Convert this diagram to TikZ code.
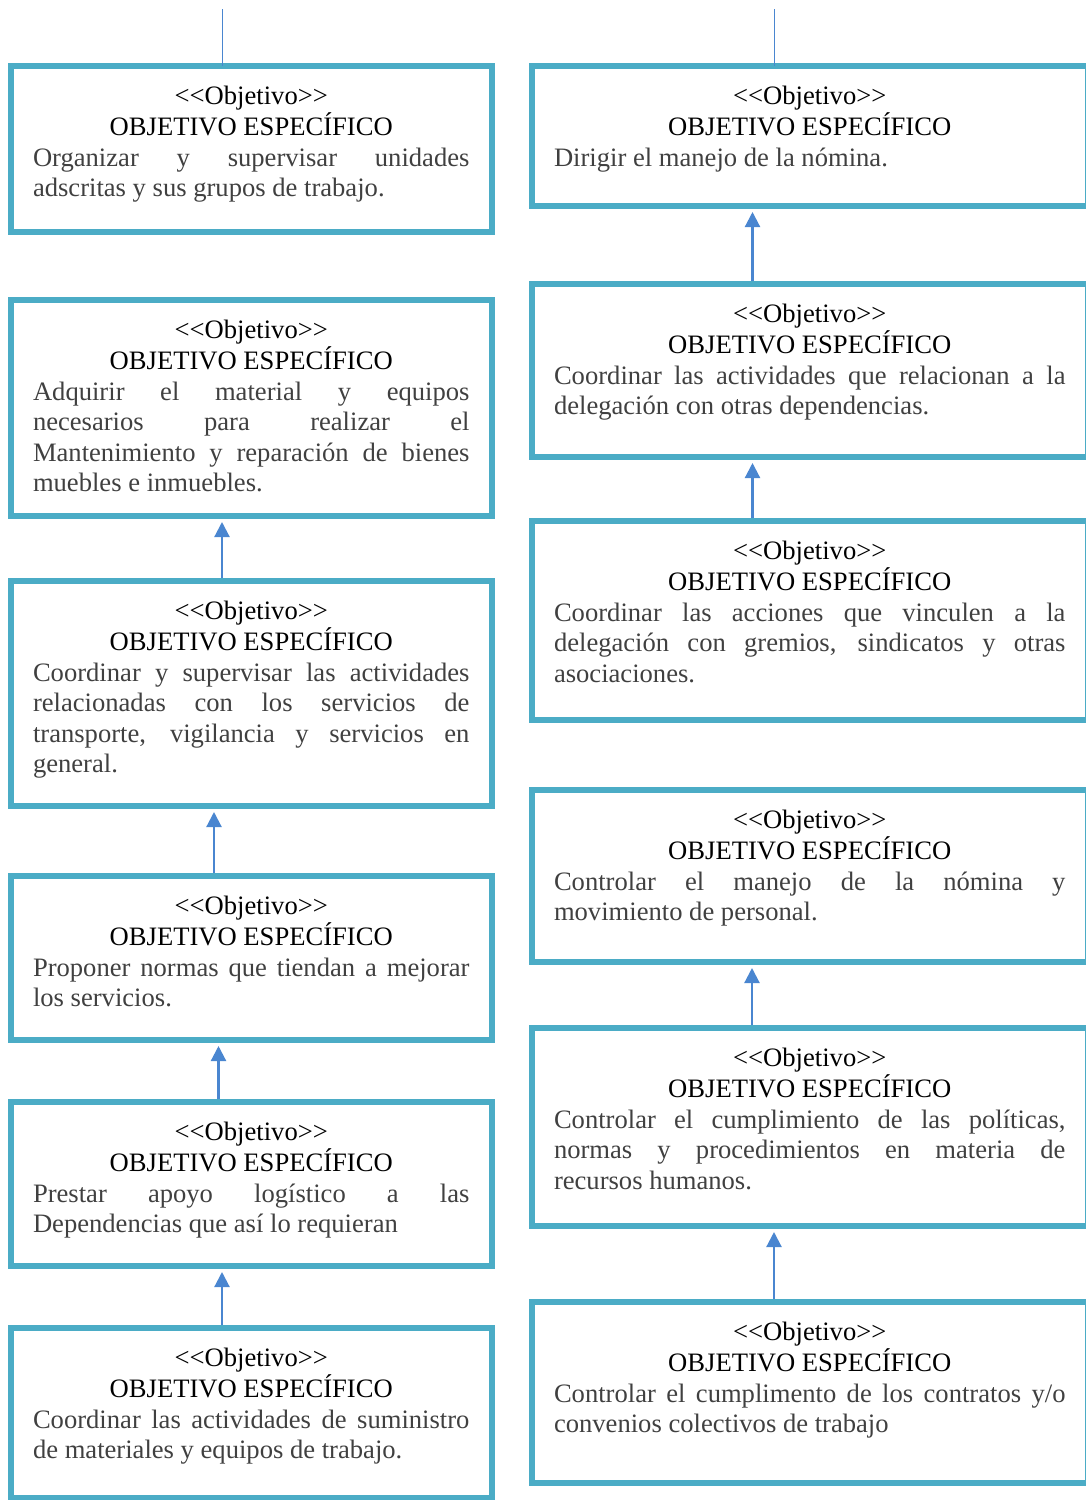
\documentclass[tikz,border=0pt]{standalone}
\usepackage{fontspec}
\setmainfont{Liberation Serif}[Ligatures=TeXOff]
\usetikzlibrary{arrows.meta}

\definecolor{boxteal}{HTML}{4BACC6}
\definecolor{linkblue}{HTML}{4A86D0}
\definecolor{bodygray}{HTML}{404040}

% one justified line of body text
\newcommand\jl[1]{\hbox to\linewidth{#1}}
% content of an objective box: text width, box height, body
\newcommand\objtext[3]{%
  \begin{minipage}[t][#2][t]{#1}%
    \fontsize{26.6}{30.6}\selectfont
    \lineskiplimit=-50pt\hbadness=10000\tolerance=10000
    \vspace*{17.4pt}%
    {\centering\strut<<Objetivo>>\par OBJETIVO ESPECÍFICO\par}%
    {\color{bodygray}#3}%
  \end{minipage}}

\tikzset{
  objbox/.style={draw=boxteal, line width=6pt, inner xsep=22.5pt, inner ysep=0pt, outer sep=0pt},
  link/.style={draw=linkblue, line width=2.2pt, -{Triangle[width=15pt,length=15pt]},
               shorten <=3pt, shorten >=6pt},
  feed/.style={draw=linkblue, line width=1.8pt}
}

\begin{document}
\begin{tikzpicture}[x=1pt,y=-1pt]
\useasboundingbox (0,0) rectangle (1086,1500);

% left column
\node[objbox] (l1) at (251.25,149) {\objtext{436.5pt}{166pt}{%
  \jl{Organizar y supervisar unidades}adscritas y sus grupos de trabajo.\par}};
\node[objbox] (l2) at (251.25,408) {\objtext{436.5pt}{216pt}{%
  \jl{Adquirir el material y equipos}\jl{necesarios para realizar el}%
  \jl{Mantenimiento y reparación de bienes}muebles e inmuebles.\par}};
\node[objbox] (l3) at (251.25,693.5) {\objtext{436.5pt}{225pt}{%
  \jl{Coordinar y supervisar las actividades}\jl{relacionadas con los servicios de}%
  \jl{transporte, vigilancia y servicios en}general.\par}};
\node[objbox] (l4) at (251.25,958) {\objtext{436.5pt}{164pt}{%
  \jl{Proponer normas que tiendan a mejorar}los servicios.\par}};
\node[objbox] (l5) at (251.25,1184) {\objtext{436.5pt}{164pt}{%
  \jl{Prestar apoyo logístico a las}Dependencias que así lo requieran\par}};
\node[objbox] (l6) at (251.25,1413) {\objtext{436.5pt}{170pt}{%
  \jl{Coordinar las actividades de suministro}de materiales y equipos de trabajo.\par}};

% right column
\node[objbox] (r1) at (809.75,136) {\objtext{511.5pt}{140pt}{%
  Dirigir el manejo de la nómina.\par}};
\node[objbox] (r2) at (809.75,370.5) {\objtext{511.5pt}{173pt}{%
  \jl{Coordinar las actividades que relacionan a la}delegación con otras dependencias.\par}};
\node[objbox] (r3) at (809.75,620.5) {\objtext{511.5pt}{199pt}{%
  \jl{Coordinar las acciones que vinculen a la}\jl{delegación con gremios, sindicatos y otras}%
  asociaciones.\par}};
\node[objbox] (r4) at (809.75,876) {\objtext{511.5pt}{172pt}{%
  \jl{Controlar el manejo de la nómina y}movimiento de personal.\par}};
\node[objbox] (r5) at (809.75,1127) {\objtext{511.5pt}{198pt}{%
  \jl{Controlar el cumplimiento de las políticas,}\jl{normas y procedimientos en materia de}%
  recursos humanos.\par}};
\node[objbox] (r6) at (809.75,1392.5) {\objtext{511.5pt}{181pt}{%
  \jl{Controlar el cumplimento de los contratos y/o}convenios colectivos de trabajo\par}};

% incoming lines at the top of each column
\coordinate (ltop) at (222.5,9);
\coordinate (rtop) at (774.5,9);
\draw[feed] (ltop) -- (ltop |- l1.north);
\draw[feed] (rtop) -- (rtop |- r1.north);

% left column links
\draw[link] ([xshift=-29.25pt]l3.north) -- ([xshift=-29.25pt]l2.south);
\draw[link] ([xshift=-37.25pt]l4.north) -- ([xshift=-37.25pt]l3.south);
\draw[link] ([xshift=-32.75pt]l5.north) -- ([xshift=-32.75pt]l4.south);
\draw[link] ([xshift=-29.25pt]l6.north) -- ([xshift=-29.25pt]l5.south);

% right column links
\draw[link] ([xshift=-57.25pt]r2.north) -- ([xshift=-57.25pt]r1.south);
\draw[link] ([xshift=-57.25pt]r3.north) -- ([xshift=-57.25pt]r2.south);
\draw[link] ([xshift=-57.75pt]r5.north) -- ([xshift=-57.75pt]r4.south);
\draw[link] ([xshift=-35.75pt]r6.north) -- ([xshift=-35.75pt]r5.south);
\end{tikzpicture}
\end{document}
